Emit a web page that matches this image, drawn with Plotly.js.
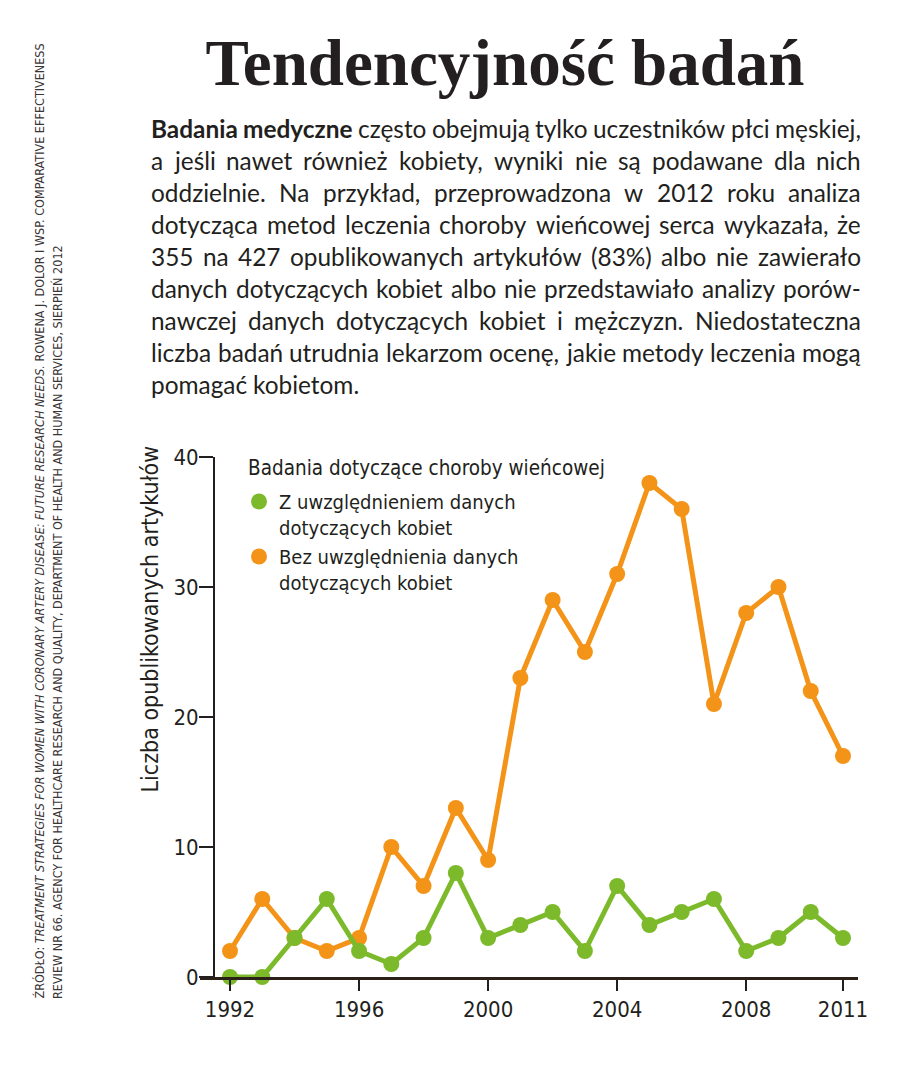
<!DOCTYPE html>
<html><head><meta charset="utf-8">
<script src="https://cdn.plot.ly/plotly-3.0.1.min.js"></script>
<style>html,body{margin:0;padding:0;background:#fff}</style>
</head><body><div id="chart" style="width:900px;height:1067px"></div>
<script>
const years = [1992,1993,1994,1995,1996,1997,1998,1999,2000,2001,2002,2003,2004,2005,2006,2007,2008,2009,2010,2011];
const withWomen = [0,0,3,6,2,1,3,8,3,4,5,2,7,4,5,6,2,3,5,3];
const withoutWomen = [2,6,3,2,3,10,7,13,9,23,29,25,31,38,36,21,28,30,22,17];
const xTickVals = [1992,1996,2000,2004,2008,2011];
const yTickVals = [0,10,20,30,40];
const seriesNames = ["Z uwzględnieniem danych<br>dotyczących kobiet","Bez uwzględnienia danych<br>dotyczących kobiet"];
const legendTitle = "Badania dotyczące choroby wieńcowej";
const yTitle = "Liczba opublikowanych artykułów";
const titleText = "Tendencyjność badań";
const paragraphLines = [
  "Badania medyczne często obejmują tylko uczestników płci męskiej,",
  "a jeśli nawet również kobiety, wyniki nie są podawane dla nich",
  "oddzielnie. Na przykład, przeprowadzona w 2012 roku analiza",
  "dotycząca metod leczenia choroby wieńcowej serca wykazała, że",
  "355 na 427 opublikowanych artykułów (83%) albo nie zawierało",
  "danych dotyczących kobiet albo nie przedstawiało analizy porów-",
  "nawczej danych dotyczących kobiet i mężczyzn. Niedostateczna",
  "liczba badań utrudnia lekarzom ocenę, jakie metody leczenia mogą",
  "pomagać kobietom."
];
const boldLeadWords = 2;
const sourceLines = [
  "ŹRÓDŁO: <i>TREATMENT STRATEGIES FOR WOMEN WITH CORONARY ARTERY DISEASE: FUTURE RESEARCH NEEDS.</i> ROWENA J. DOLOR I WSP. COMPARATIVE EFFECTIVENESS",
  "REVIEW NR 66. AGENCY FOR HEALTHCARE RESEARCH AND QUALITY, DEPARTMENT OF HEALTH AND HUMAN SERVICES, SIERPIEŃ 2012"
];

const GREEN = '#7cba2b', ORANGE = '#f39419', INK = '#231f20';
const NARROW = '"Liberation Sans Narrow", "DejaVu Sans Condensed", Lato, sans-serif';
const BODY = 'Lato, "Open Sans", sans-serif';

const W = 900, H = 1067;
const L = 200, R = 858, T = 457, B = 977;
const pw = R - L, ph = B - T;
const px2x = p => (p - L) / pw;
const px2y = p => (B - p) / ph;

const annotations = [];

// justified paragraph
const canvas = document.createElement('canvas');
const ctx = canvas.getContext('2d');
const pLeft = 150, pRight = 860, pTop = 128, pStep = 32.1;
const measureAt = (t, bold, size) => { ctx.font = (bold ? '700 ' : '400 ') + size + 'px Lato'; return ctx.measureText(t).width; };
const boldOf = (li, wi) => li === 0 && wi < boldLeadWords;
// font size so that the tightest justified line just fits
let pSize = 40;
paragraphLines.slice(0, -1).forEach((line, li) => {
  const words = line.split(' ');
  let nat = 0;
  words.forEach((w, wi) => { nat += measureAt(w, boldOf(li, wi), 10); });
  nat += measureAt(' ', false, 10) * (words.length - 1) * 0.85;
  pSize = Math.min(pSize, 10 * (pRight - pLeft) / nat);
});
pSize = Math.round(pSize * 10) / 10;
paragraphLines.forEach((line, li) => {
  const words = line.split(' ');
  const widths = words.map((w, wi) => measureAt(w, boldOf(li, wi), pSize));
  const sum = widths.reduce((a, b) => a + b, 0);
  const last = li === paragraphLines.length - 1;
  const gap = last ? measureAt(' ', false, pSize) : (pRight - pLeft - sum) / (words.length - 1);
  let pos = pLeft;
  words.forEach((w, wi) => {
    annotations.push({
      xref: 'paper', yref: 'paper', x: px2x(pos), y: px2y(pTop + li * pStep),
      xanchor: 'left', yanchor: 'middle', showarrow: false, borderpad: 0,
      text: boldOf(li, wi) ? '<b>' + w + '</b>' : w,
      font: {family: BODY, size: pSize, color: INK}
    });
    pos += widths[wi] + gap;
  });
});

// source (vertical)
[39, 57].forEach((xp, i) => {
  annotations.push({
    xref: 'paper', yref: 'paper', x: px2x(xp), y: px2y(1001),
    xanchor: 'center', yanchor: 'bottom', textangle: -90, showarrow: false,
    text: sourceLines[i], font: {family: NARROW, size: 12.5, color: '#3a3536'}
  });
});

// y title
annotations.push({
  xref: 'paper', yref: 'paper', x: px2x(149), y: px2y(444),
  xanchor: 'center', yanchor: 'top', textangle: -90, showarrow: false,
  text: yTitle, font: {family: NARROW, size: 23, color: INK}
});
// legend title
annotations.push({
  xref: 'paper', yref: 'paper', x: px2x(246), y: px2y(468),
  xanchor: 'left', yanchor: 'middle', showarrow: false,
  text: legendTitle, font: {family: NARROW, size: 20.5, color: INK}
});

const traces = [
  {x: [null], y: [null], mode: 'markers', name: seriesNames[0], marker: {color: GREEN, size: 17}, showlegend: true},
  {x: [null], y: [null], mode: 'markers', name: seriesNames[1], marker: {color: ORANGE, size: 17}, showlegend: true},
  {x: years, y: withoutWomen, mode: 'lines+markers', line: {color: ORANGE, width: 5}, marker: {color: ORANGE, size: 16}, showlegend: false, cliponaxis: false},
  {x: years, y: withWomen, mode: 'lines+markers', line: {color: GREEN, width: 5}, marker: {color: GREEN, size: 16}, showlegend: false, cliponaxis: false}
];

const layout = {
  width: W, height: H,
  margin: {l: L, r: W - R, t: T, b: H - B, pad: 0},
  paper_bgcolor: '#fff', plot_bgcolor: '#fff',
  showlegend: true,
  title: {text: titleText, x: 505 / W, xref: 'container', xanchor: 'center', y: 1 - 62 / H, yref: 'container', yanchor: 'middle',
          font: {family: '"Liberation Serif", "DejaVu Serif", serif', size: 65, color: INK, weight: 700}},
  xaxis: {
    range: [1992 - 30 / 32.26, 2011 + 15 / 32.26], tickvals: xTickVals, ticktext: xTickVals.map(String),
    showline: true, linewidth: 3, linecolor: '#2b2118', ticks: 'outside', ticklen: 11, tickwidth: 1.5, tickcolor: INK,
    showgrid: false, zeroline: false, tickfont: {family: NARROW, size: 22, color: INK}, fixedrange: true
  },
  yaxis: {
    range: [0, 40], tickvals: yTickVals, anchor: 'free', position: 13 / pw,
    showline: true, linewidth: 1.5, linecolor: INK, ticks: 'outside', ticklen: 14, tickwidth: 1.5, tickcolor: INK,
    ticklabelstandoff: -4,
    showgrid: false, zeroline: false, tickfont: {family: NARROW, size: 22, color: INK}, fixedrange: true
  },
  legend: {
    x: px2x(239), y: px2y(482), xanchor: 'left', yanchor: 'top', xref: 'paper', yref: 'paper',
    bgcolor: 'rgba(0,0,0,0)', borderwidth: 0, valign: 'top', itemwidth: 30,
    font: {family: NARROW, size: 20, color: INK}, tracegroupgap: 0
  },
  annotations: annotations
};

Plotly.newPlot('chart', traces, layout, {displayModeBar: false, staticPlot: true});
</script></body></html>
